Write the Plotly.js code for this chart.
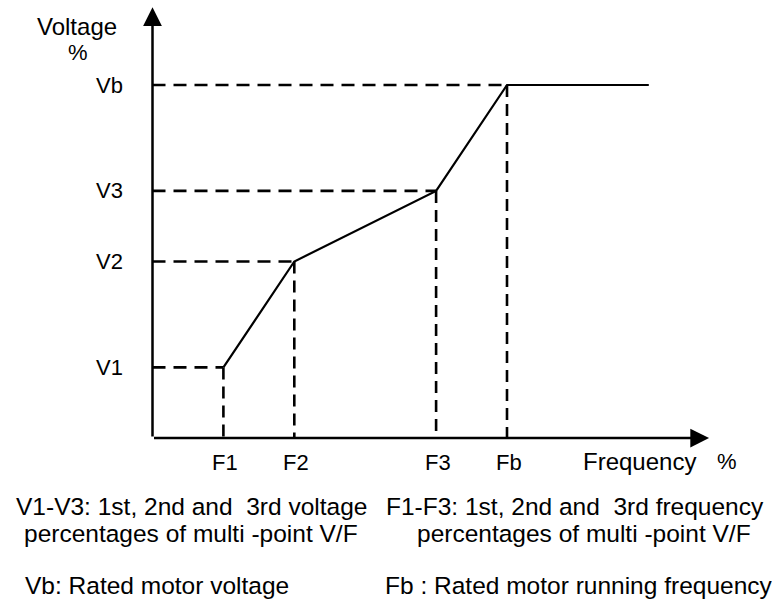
<!DOCTYPE html>
<html>
<head>
<meta charset="utf-8">
<script src="https://cdn.plot.ly/plotly-3.0.1.min.js"></script>
<style>html,body{margin:0;padding:0;background:#fff;}#chart{width:772px;height:601px;}</style>
</head>
<body>
<div id="chart"></div>
<script>
// ---- data (percent of rated values) ----
const freqLabels = ['F1', 'F2', 'F3', 'Fb'];
const freqValues = [20, 40, 80, 100];
const voltLabels = ['V1', 'V2', 'V3', 'Vb'];
const voltValues = [20, 50, 70, 100];
const maxFreq = 140;          // end of the flat part after Fb
const axisEndFreq = 157;      // x-axis arrow tip
const axisEndVolt = 122;      // y-axis arrow tip
const yAxisTitle = ['Voltage', '%'];
const xAxisTitle = ['Frequency', '%'];
const notesLeft = ['V1-V3: 1st, 2nd and \u00a03rd voltage', 'percentages of multi -point V/F', 'Vb: Rated motor voltage'];
const notesRight = ['F1-F3: 1st, 2nd and \u00a03rd frequency', 'percentages of multi -point V/F', 'Fb : Rated motor running frequency'];

// ---- build traces ----
const curveX = freqValues.concat([maxFreq]);
const curveY = voltValues.concat([voltValues[voltValues.length - 1]]);

const traces = [];
freqValues.forEach((f, i) => {
  traces.push({
    x: [0, f], y: [voltValues[i], voltValues[i]], mode: 'lines', hoverinfo: 'skip',
    line: {color: '#000', width: 2.6, dash: '13px,8px'}
  });
  traces.push({
    x: [f, f], y: [voltValues[i], 0], mode: 'lines', hoverinfo: 'skip',
    line: {color: '#000', width: 2.6, dash: '12px,7px'}
  });
});
traces.push({x: curveX, y: curveY, mode: 'lines', hoverinfo: 'skip', line: {color: '#000', width: 2.2}});

const W = 772, H = 601;
const px = v => v / W, py = v => 1 - v / H;
const FONT = 'Liberation Sans, Arial, sans-serif';

const annotations = [];
// axes with arrowheads
annotations.push({x: axisEndFreq, y: 0, ax: 0, ay: 0, xref: 'x', yref: 'y', axref: 'x', ayref: 'y',
  text: '', showarrow: true, arrowhead: 2, arrowsize: 1.5, arrowwidth: 2.5, arrowcolor: '#000', standoff: 0, startstandoff: 0});
annotations.push({x: 0, y: axisEndVolt, ax: 0, ay: 0, xref: 'x', yref: 'y', axref: 'x', ayref: 'y',
  text: '', showarrow: true, arrowhead: 2, arrowsize: 1.5, arrowwidth: 2.5, arrowcolor: '#000', standoff: 0, startstandoff: 0});
// tick labels
voltLabels.forEach((t, i) => annotations.push({x: 0, y: voltValues[i], xref: 'x', yref: 'y', text: t, showarrow: false,
  xanchor: 'right', yanchor: 'middle', xshift: -28, font: {family: FONT, size: 22, color: '#000'}}));
freqLabels.forEach((t, i) => annotations.push({x: freqValues[i], y: 0, xref: 'x', yref: 'y', text: t, showarrow: false,
  xanchor: 'center', yanchor: 'middle', yshift: -24, xshift: 2, font: {family: FONT, size: 22, color: '#000'}}));
// axis titles
annotations.push({x: px(76.5), y: py(27), xref: 'paper', yref: 'paper', text: yAxisTitle[0], showarrow: false, xanchor: 'center', yanchor: 'middle', font: {family: FONT, size: 24, color: '#000'}});
annotations.push({x: px(77.5), y: py(52), xref: 'paper', yref: 'paper', text: yAxisTitle[1], showarrow: false, xanchor: 'center', yanchor: 'middle', font: {family: FONT, size: 22, color: '#000'}});
annotations.push({x: px(581), y: py(461), xref: 'paper', yref: 'paper', text: xAxisTitle[0], showarrow: false, xanchor: 'left', yanchor: 'middle', font: {family: FONT, size: 24, color: '#000'}});
annotations.push({x: px(715), y: py(461), xref: 'paper', yref: 'paper', text: xAxisTitle[1], showarrow: false, xanchor: 'left', yanchor: 'middle', font: {family: FONT, size: 22, color: '#000'}});
// notes
const noteY = [506, 533, 585];
const noteLX = [14, 22, 23];
const noteRX = [384, 415, 383];
notesLeft.forEach((t, i) => annotations.push({x: px(noteLX[i]), y: py(noteY[i]), xref: 'paper', yref: 'paper', text: t, showarrow: false, xanchor: 'left', yanchor: 'middle', font: {family: FONT, size: 24.5, color: '#000'}}));
notesRight.forEach((t, i) => annotations.push({x: px(noteRX[i]), y: py(noteY[i]), xref: 'paper', yref: 'paper', text: t, showarrow: false, xanchor: 'left', yanchor: 'middle', font: {family: FONT, size: 24.5, color: '#000'}}));

// pixel mapping: origin at (152.5, 438); 3.545 px per % frequency, 3.53 px per % voltage
const ox = 152.5, oy = 438, sx = 3.545, sy = 3.53;
const layout = {
  width: W, height: H,
  margin: {l: 0, r: 0, t: 0, b: 0, pad: 0},
  paper_bgcolor: '#fff', plot_bgcolor: '#fff',
  showlegend: false,
  xaxis: {range: [-ox / sx, (W - ox) / sx], visible: false, fixedrange: true},
  yaxis: {range: [(oy - H) / sy, oy / sy], visible: false, fixedrange: true},
  annotations: annotations
};
Plotly.newPlot('chart', traces, layout, {staticPlot: true, displayModeBar: false});
</script>
</body>
</html>
